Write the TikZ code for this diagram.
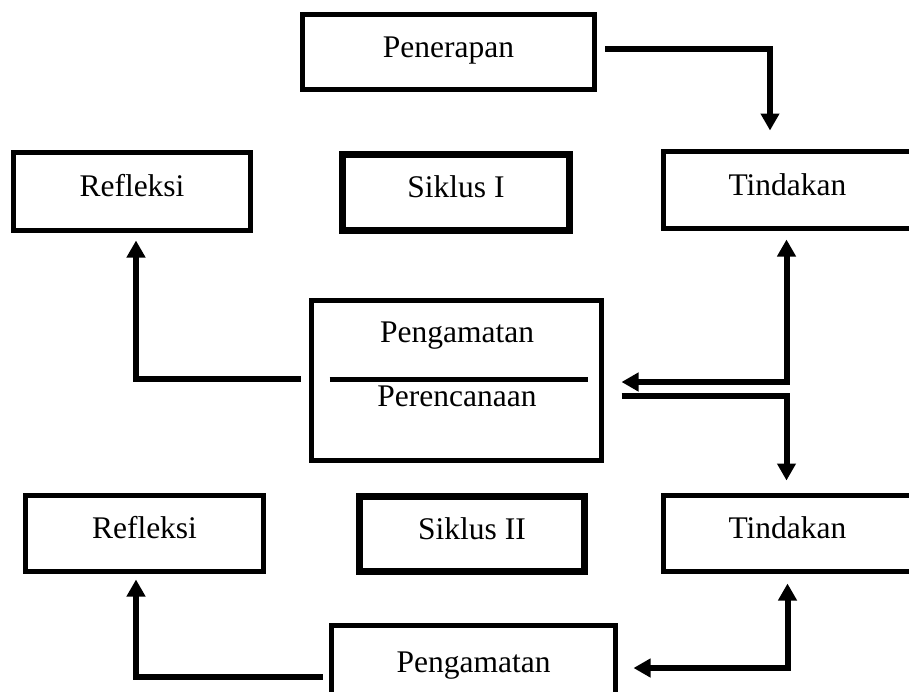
\documentclass[tikz,border=0pt]{standalone}
\usepackage{fontspec}
\setmainfont{Liberation Serif}
\usetikzlibrary{arrows.meta,calc}
\tikzset{
    RA1/.style ={rectangle, draw, line width=5pt, inner sep=0pt, text height=22pt, text depth=12pt},
    RA2/.style ={rectangle, draw, line width=7pt, inner sep=0pt, text height=22pt, text depth=12pt},
    TX/.style ={inner sep=0pt},
    AR/.style ={line width=6pt, -{Triangle[width=18pt,length=17pt]}},
    AB/.style ={line width=6pt, {Triangle[width=18pt,length=17pt]}-{Triangle[width=18pt,length=17pt]}}
}

\begin{document}
\begin{tikzpicture}[x=1pt, y=-1pt, every node/.append style={font=\fontsize{31.5}{36}\selectfont}]
        \useasboundingbox (0,0) rectangle (909,691);
        \node[RA1, minimum width=292pt, minimum height=75pt] (pen) at (448.5,52) {Penerapan};
        \node[RA1, minimum width=237pt, minimum height=78pt] (ref1) at (132,191.5) {Refleksi};
        \node[RA2, minimum width=227pt, minimum height=76pt] (sik1) at (456,192.5) {Siklus I};
        \node[RA1, minimum width=249pt, minimum height=77pt] (tin1) at (787.5,190) {Tindakan};
        \node[RA1, minimum width=290pt, minimum height=160pt] (core) at (456.5,380.5) {};
        \node[TX] (pgm) at (457,336) {Pengamatan};
        \node[TX] (prc) at (457,396.5) {Perencanaan};
        \draw[line width=5pt] ($(core.west)+(20.5,-1.5)$) -- ($(core.east)+(-16.5,-1.5)$);
        \node[RA1, minimum width=238pt, minimum height=76pt] (ref2) at (144.5,533.5) {Refleksi};
        \node[RA2, minimum width=225pt, minimum height=75pt] (sik2) at (472,534) {Siklus II};
        \node[RA1, minimum width=249pt, minimum height=76pt] (tin2) at (787.5,533.5) {Tindakan};
        \node[RA1, minimum width=284pt, minimum height=84.5pt] (pen2) at (473.5,667.75) {Pengamatan};

        \draw[AR] ($(pen.east)+(8,-3)$) -| ($(tin1.north)+(-17.5,-18.5)$);
        \draw[AR] ($(core.west)+(-8.5,-1.5)$) -| ($(ref1.south)+(4,7.5)$);
        \draw[AB] ($(core.east)+(17.5,1.5)$) -| ($(tin1.south)+(-1,8.5)$);
        \draw[AR] ($(core.east)+(17.5,15.5)$) -| ($(tin2.north)+(-1,-12.5)$);
        \draw[AR] ($(pen2.west)+(-6.5,9.25)$) -| ($(ref2.south)+(-8.5,5.5)$);
        \draw[AB] ($(pen2.east)+(15.5,0.25)$) -| ($(tin2.south)+(0,9.5)$);
    \end{tikzpicture}
\end{document}
